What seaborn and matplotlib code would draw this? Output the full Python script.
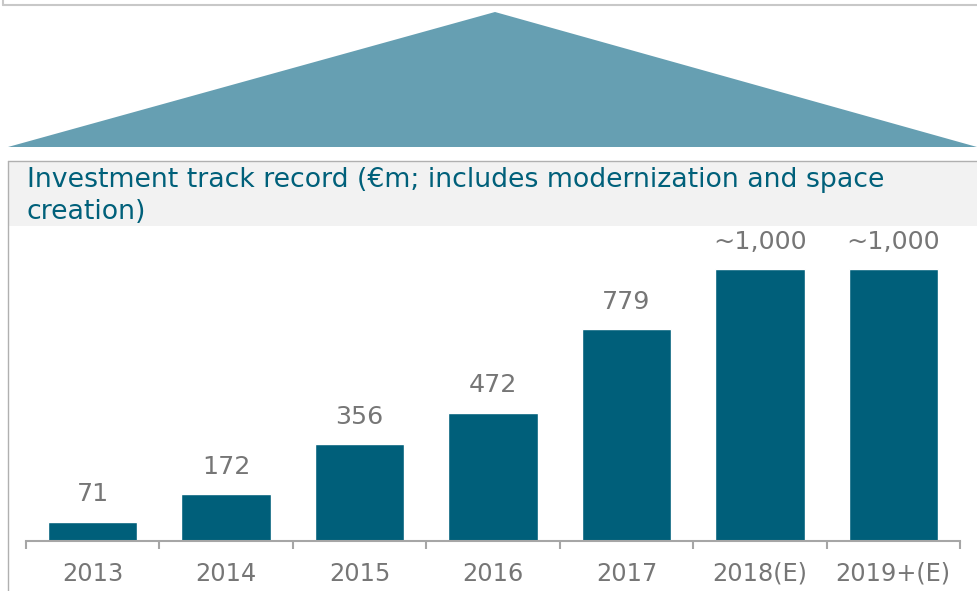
import pandas as pd
import matplotlib.pyplot as plt
import seaborn as sns
from matplotlib.patches import Polygon, Rectangle
from matplotlib.lines import Line2D

# data
years = ["2013", "2014", "2015", "2016", "2017", "2018(E)", "2019+(E)"]
investment = [71, 172, 356, 472, 779, 1000, 1000]
value_labels = ["71", "172", "356", "472", "779", "~1,000", "~1,000"]
title = "Investment track record (€m; includes modernization and space\ncreation)"

BAR_COLOR = "#005f7a"
TRI_COLOR = "#669fb2"
TEXT_GRAY = "#767676"

W, H = 977, 591
sns.set_style("white")
plt.rcParams["font.family"] = ["DejaVu Sans"]

fig = plt.figure(figsize=(W / 100, H / 100), dpi=100)

# background layer in pixel coordinates (top = 0)
bg = fig.add_axes([0, 0, 1, 1])
bg.set_xlim(0, W)
bg.set_ylim(H, 0)
bg.axis("off")
bg.add_line(Line2D([3, W], [5, 5], color="#c8c8c8", lw=1.5))
bg.add_line(Line2D([3, 3], [0, 5], color="#c8c8c8", lw=1.5))
bg.add_patch(Polygon([[8, 147], [495, 12], [W, 147]], closed=True,
                     facecolor=TRI_COLOR, edgecolor="none"))
bg.add_patch(Rectangle((8, 161), W - 8, 65, facecolor="#f2f2f2", edgecolor="none"))
bg.add_line(Line2D([8, W], [161, 161], color="#b0b0b0", lw=1))
bg.add_line(Line2D([8, 8], [161, H], color="#b0b0b0", lw=1))
bg.text(27, 196, title, color="#00607a", fontsize=19.3, va="center",
        ha="left", linespacing=1.32)

# chart axes: x 26..960, y 226..541
left, right, top, bottom = 26, 960, 226, 541
ax = fig.add_axes([left / W, 1 - bottom / H, (right - left) / W, (bottom - top) / H])
ax.patch.set_alpha(0)

df = pd.DataFrame({"year": years, "value": investment})
sns.barplot(data=df, x="year", y="value", color=BAR_COLOR, width=0.67,
            saturation=1, ax=ax)

ax.set_xlim(-0.5, len(years) - 0.5)
ax.set_ylim(0, 1158)
for i, (v, lab) in enumerate(zip(investment, value_labels)):
    ax.annotate(lab, (i, v), xytext=(0, 11), textcoords="offset points",
                ha="center", va="bottom", color=TEXT_GRAY, fontsize=18.3)

for s in ["top", "right", "left"]:
    ax.spines[s].set_visible(False)
ax.spines["bottom"].set_color("#a6a6a6")
ax.spines["bottom"].set_linewidth(1.5)
ax.set_yticks([])
ax.set_xticks([i - 0.5 for i in range(len(years) + 1)], minor=False)
ax.set_xticklabels([""] * (len(years) + 1))
ax.tick_params(axis="x", which="major", bottom=True, length=6, width=1.5,
               color="#a6a6a6", direction="out")
ax.set_xticks(range(len(years)), minor=True)
ax.set_xticklabels(years, minor=True)
ax.tick_params(axis="x", which="minor", bottom=True, length=0, pad=15,
               labelsize=17.3, labelcolor=TEXT_GRAY)
ax.set_xlabel("")
ax.set_ylabel("")

fig.savefig("out.png", dpi=100)
